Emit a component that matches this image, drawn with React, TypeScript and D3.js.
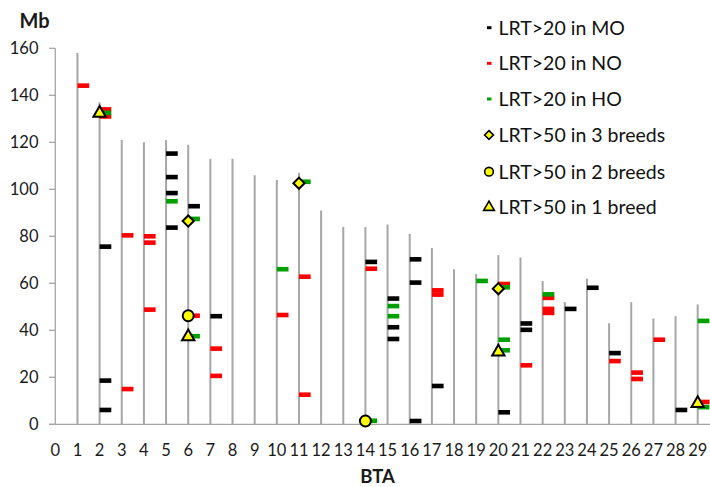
import React from "react";
import * as d3 from "d3";

const chromosomes = d3.range(1, 30);
const chromLengths = [158, 137, 121, 120, 121, 119, 113, 113, 106, 104, 107, 91, 84, 84, 85, 81, 75, 66, 64, 72, 71, 61, 52, 62, 43, 52, 45, 46, 51];
const xTicks = d3.range(0, 30);
const yTicks = [0, 20, 40, 60, 80, 100, 120, 140, 160];

// [BTA, position Mb]
const moHits: [number, number][] = [
  [2, 75.6], [2, 18.6], [2, 6.1], [5, 115.2], [5, 105.2], [5, 98.4], [5, 83.7], [6, 92.8], [7, 46],
  [14, 69.1], [15, 53.5], [15, 41.3], [15, 36.3], [16, 70.2], [16, 60.3], [16, 1.4], [17, 16.3],
  [20, 5.1], [21, 42.9], [21, 40.2], [23, 49.1], [24, 58.1], [25, 30.3], [28, 6.1],
];
const noHits: [number, number][] = [
  [1, 144.1], [2, 134], [2, 131], [3, 80.4], [3, 15], [4, 80], [4, 77.3], [4, 48.8], [6, 46.2],
  [7, 32.2], [7, 20.6], [10, 46.5], [11, 62.8], [11, 12.6], [14, 66.2], [17, 57], [17, 55.2],
  [20, 59.7], [21, 25.1], [22, 53.8], [22, 49.1], [22, 47.4], [25, 26.9], [26, 22], [26, 19.3],
  [27, 36], [29, 9.5],
];
const hoHits: [number, number][] = [
  [2, 132.5], [5, 94.9], [6, 87.4], [6, 37.5], [10, 66], [11, 103.2], [14, 1.5], [15, 50.3],
  [15, 46], [19, 61], [20, 58.3], [20, 36], [20, 31.5], [22, 55.3], [29, 44], [29, 7.3],
];
const threeBreeds: [number, number][] = [[6, 86.5], [11, 102.6], [20, 57.7]];
const twoBreeds: [number, number][] = [[6, 46.2], [14, 1.4]];
const oneBreed: [number, number][] = [[2, 132.4], [6, 37.3], [20, 30.8], [29, 8.9]];

const legendLabels = [
  "LRT>20 in MO",
  "LRT>20 in NO",
  "LRT>20 in HO",
  "LRT>50 in 3 breeds",
  "LRT>50 in 2 breeds",
  "LRT>50 in 1 breed",
];

const W = 710;
const H = 487;
const FONT = "Lato, 'Open Sans', sans-serif";

export default function App() {
  const x = d3.scaleLinear().domain([0, 29]).range([55.3, 697.7]);
  const y = d3.scaleLinear().domain([0, 160]).range([424.3, 48.3]);
  const grey = "#a6a6a6";
  const barW = 11.7;
  const barH = 4.6;
  const diamond = d3.symbol().type(d3.symbolDiamond2).size(80)();
  const circle = d3.symbol().type(d3.symbolCircle).size(95)();
  const tri = d3.symbol().type(d3.symbolTriangle).size(66)();
  const diamondL = d3.symbol().type(d3.symbolDiamond2).size(50)();
  const circleL = d3.symbol().type(d3.symbolCircle).size(60)();
  const triL = d3.symbol().type(d3.symbolTriangle).size(50)();

  const bars = (data: [number, number][], color: string) =>
    data.map(([c, v], i) => (
      <rect key={color + i} x={x(c)} y={y(v) - barH / 2} width={barW} height={barH} fill={color} />
    ));

  const legendY = [27.7, 63.3, 99, 135, 171.7, 207.3];
  const legendColors = ["#000000", "#ff0000", "#00a000"];

  return (
    <svg width={W} height={H} style={{ position: "absolute", left: 0, top: 0, background: "#fff" }} fontFamily={FONT}>
      {/* y axis */}
      <line x1={55.3} x2={55.3} y1={y(160)} y2={y(0)} stroke={grey} strokeWidth={1.3} />
      {yTicks.map((t) => (
        <g key={"yt" + t}>
          <line x1={49} x2={55.3} y1={y(t)} y2={y(t)} stroke={grey} strokeWidth={1.3} />
          <text x={38.5} y={y(t)} dy="0.36em" textAnchor="end" fontSize={16.5} fill="#1a1a1a">{t}</text>
        </g>
      ))}
      {/* x axis */}
      <line x1={49} x2={710} y1={y(0)} y2={y(0)} stroke={grey} strokeWidth={1.3} />
      {xTicks.map((t) => (
        <text key={"xt" + t} x={x(t)} y={450} dy="0.36em" textAnchor="middle" fontSize={16.5} fill="#1a1a1a">{t}</text>
      ))}
      {/* chromosomes */}
      {chromosomes.map((c, i) => (
        <line key={"c" + c} x1={x(c)} x2={x(c)} y1={y(chromLengths[i])} y2={y(0)} stroke={grey} strokeWidth={2} />
      ))}
      {bars(moHits, "#000000")}
      {bars(noHits, "#ff0000")}
      {bars(hoHits, "#00a000")}
      {threeBreeds.map(([c, v], i) => (
        <path key={"d" + i} d={diamond!} transform={`translate(${x(c)},${y(v)})`} fill="#ffff00" stroke="#000" strokeWidth={2} />
      ))}
      {twoBreeds.map(([c, v], i) => (
        <path key={"o" + i} d={circle!} transform={`translate(${x(c)},${y(v)})`} fill="#ffff00" stroke="#000" strokeWidth={2} />
      ))}
      {oneBreed.map(([c, v], i) => (
        <path key={"t" + i} d={tri!} transform={`translate(${x(c)},${y(v)})`} fill="#ffff00" stroke="#000" strokeWidth={2} />
      ))}
      {/* axis titles */}
      <text x={34.5} y={21} dy="0.36em" textAnchor="middle" fontSize={20} fontWeight="bold" fill="#1a1a1a">Mb</text>
      <text x={377.5} y={476} dy="0.36em" textAnchor="middle" fontSize={18.5} fontWeight="bold" fill="#1a1a1a">BTA</text>
      {/* legend */}
      {legendLabels.map((lab, i) => (
        <g key={"lg" + i}>
          {i < 3 && <rect x={487} y={legendY[i] - 1.5} width={4.5} height={3} fill={legendColors[i]} />}
          {i === 3 && <path d={diamondL!} transform={`translate(489,${legendY[i]})`} fill="#ffff00" stroke="#000" strokeWidth={1.6} />}
          {i === 4 && <path d={circleL!} transform={`translate(489,${legendY[i]})`} fill="#ffff00" stroke="#000" strokeWidth={1.6} />}
          {i === 5 && <path d={triL!} transform={`translate(489,${legendY[i]})`} fill="#ffff00" stroke="#000" strokeWidth={1.6} />}
          <text x={498.5} y={legendY[i]} dy="0.36em" fontSize={19.5} fill="#111">{lab}</text>
        </g>
      ))}
    </svg>
  );
}
